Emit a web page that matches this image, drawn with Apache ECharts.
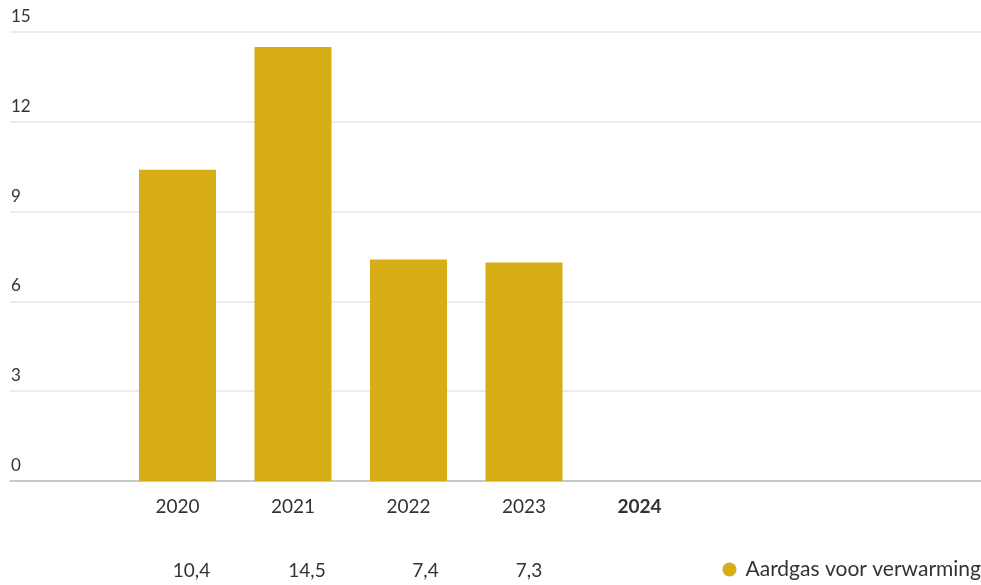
<!DOCTYPE html>
<html>
<head>
<meta charset="utf-8">
<script src="https://cdn.jsdelivr.net/npm/echarts@6/dist/echarts.min.js"></script>
<style>html,body{margin:0;padding:0;background:#fff;}#c{width:981px;height:585px;}</style>
</head>
<body>
<div id="c"></div>
<script>
const categories = ['2020', '2021', '2022', '2023', '2024'];
const values = [10.4, 14.5, 7.4, 7.3, null];
const yTicks = [0, 3, 6, 9, 12, 15];
const seriesName = 'Aardgas voor verwarming';

// layout-only: horizontal nudges of the value row labels (px)
const valueLabelNudge = [14, 14, 17, 5, 0];

const valueLabels = values.map(v => v == null ? '' : String(v).replace('.', ','));
const FONT = 'Lato, "Noto Sans", sans-serif';
const TXT = '#333333';
const BAR = '#D7AD15';

const chart = echarts.init(document.getElementById('c'), null, {renderer: 'canvas'});
chart.setOption({
  animation: false,
  textStyle: {fontFamily: FONT},
  legend: {
    data: [seriesName],
    right: 0, top: 559,
    padding: 0,
    icon: 'circle', itemWidth: 14, itemHeight: 14, itemGap: 5,
    textStyle: {fontSize: 21, color: TXT, fontFamily: FONT, padding: [0, 0, 0, 4]}
  },
  grid: [
    {left: 10, right: 0, top: 32, bottom: 104},
    {left: 119.75, width: 577.5, top: 32, bottom: 104}
  ],
  xAxis: [
    {gridIndex: 0, type: 'value', min: 0, max: 1,
     axisLine: {show: true, lineStyle: {color: '#bdbdbd', width: 1.5}},
     axisTick: {show: false}, axisLabel: {show: false}, splitLine: {show: false}},
    {gridIndex: 1, type: 'category', data: categories.map(c => c === '2024' ? {value: c, textStyle: {fontWeight: 'bold'}} : c),
     axisLine: {show: false}, axisTick: {show: false},
     axisLabel: {margin: 16, fontSize: 19, color: TXT, fontFamily: FONT}},
    {gridIndex: 1, type: 'category',
     data: valueLabels.map((t, i) => ({value: t, textStyle: {padding: [0, 0, 0, valueLabelNudge[i] * 2]}})),
     position: 'bottom', offset: 64,
     axisLine: {show: false}, axisTick: {show: false},
     axisLabel: {margin: 16, fontSize: 19, color: TXT, fontFamily: FONT}}
  ],
  yAxis: [
    {gridIndex: 0, type: 'value', min: yTicks[0], max: yTicks[yTicks.length - 1], interval: 3,
     axisLine: {show: false}, axisTick: {show: false},
     axisLabel: {inside: true, margin: 1, verticalAlign: 'bottom', padding: [0, 0, 7, 0], fontSize: 17, color: TXT, fontFamily: FONT},
     splitLine: {lineStyle: {color: '#e6e6e6', width: 1.5}}},
    {gridIndex: 1, type: 'value', min: yTicks[0], max: yTicks[yTicks.length - 1], show: false, splitLine: {show: false}}
  ],
  series: [{
    name: seriesName, type: 'bar', xAxisIndex: 1, yAxisIndex: 1,
    data: values, barWidth: 77,
    itemStyle: {color: BAR}
  }]
});
</script>
</body>
</html>
